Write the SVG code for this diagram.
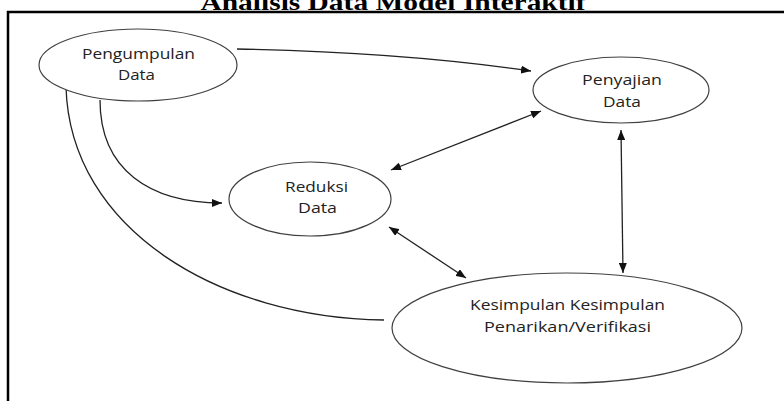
<svg xmlns="http://www.w3.org/2000/svg" width="784" height="401" viewBox="0 0 784 401">
<style>
.node ellipse{fill:#fff;stroke:#404040;stroke-width:1.2}
.lbl{font-family:"Open Sans","DejaVu Sans",sans-serif;font-size:14.5px;fill:#222;text-anchor:middle}
.title{font-family:"Liberation Serif","Times New Roman",serif;font-size:24px;font-weight:bold;fill:#000;text-anchor:middle}
.conn path{fill:none;stroke:#222;stroke-width:1.3}
.frame{fill:none;stroke:#000;stroke-width:2.5}
</style>
<defs>
<marker id="ah" viewBox="0 0 10 8" refX="10" refY="4" markerWidth="10" markerHeight="8" markerUnits="userSpaceOnUse" orient="auto-start-reverse">
<path d="M0,0 L10,4 L0,8 z" fill="#111"/>
</marker>
</defs>
<rect width="784" height="401" fill="#fff"/>
<text class="title" x="393" y="9.5" textLength="385" lengthAdjust="spacingAndGlyphs">Analisis Data Model Interaktif</text>
<path class="frame" d="M8,401 L8,12 L784,12"/>
<g class="conn">
<path d="M237,49 Q400,52 531,71" marker-end="url(#ah)"/>
<path d="M100,100 C100,170 150,203 222,203" marker-end="url(#ah)"/>
<path d="M66,87 C70,230 220,318 384,320"/>
<path d="M391,170 L541,111" marker-start="url(#ah)" marker-end="url(#ah)"/>
<path d="M389,227 L466,278" marker-start="url(#ah)" marker-end="url(#ah)"/>
<path d="M621,130 L623,273" marker-start="url(#ah)" marker-end="url(#ah)"/>
</g>
<g id="pengumpulan" class="node">
<ellipse cx="138" cy="65" rx="99" ry="36"/>
<text class="lbl" x="138.5" y="59" textLength="113" lengthAdjust="spacingAndGlyphs">Pengumpulan</text>
<text class="lbl" x="136.5" y="80" textLength="37" lengthAdjust="spacingAndGlyphs">Data</text>
</g>
<g id="penyajian" class="node">
<ellipse cx="621" cy="90" rx="88" ry="33"/>
<text class="lbl" x="622" y="85" textLength="80" lengthAdjust="spacingAndGlyphs">Penyajian</text>
<text class="lbl" x="622" y="107" textLength="38" lengthAdjust="spacingAndGlyphs">Data</text>
</g>
<g id="reduksi" class="node">
<ellipse cx="310" cy="199" rx="81" ry="37"/>
<text class="lbl" x="316.5" y="192" textLength="63" lengthAdjust="spacingAndGlyphs">Reduksi</text>
<text class="lbl" x="317.5" y="213" textLength="39" lengthAdjust="spacingAndGlyphs">Data</text>
</g>
<g id="kesimpulan" class="node">
<ellipse cx="567" cy="328" rx="175" ry="55"/>
<text class="lbl" x="567.5" y="310" textLength="195" lengthAdjust="spacingAndGlyphs">Kesimpulan Kesimpulan</text>
<text class="lbl" x="567.5" y="332" textLength="167" lengthAdjust="spacingAndGlyphs">Penarikan/Verifikasi</text>
</g>
</svg>
